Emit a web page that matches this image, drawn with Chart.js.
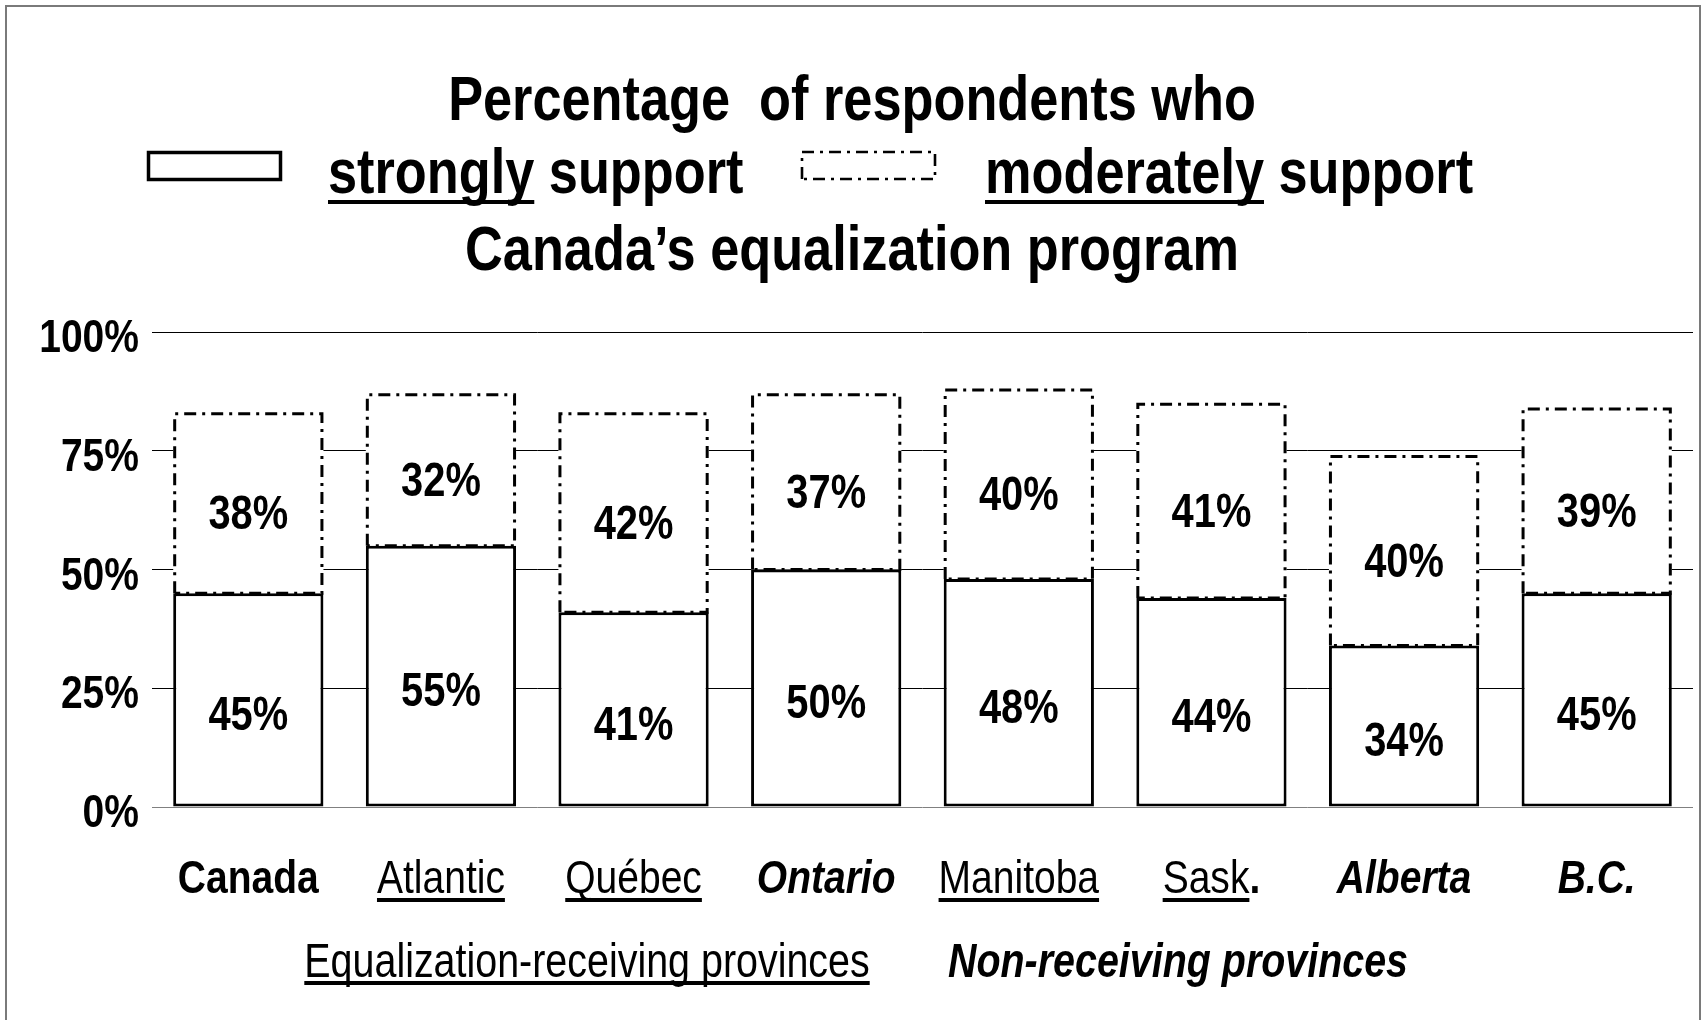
<!DOCTYPE html>
<html>
<head>
<meta charset="utf-8">
<title>Support for Canada’s equalization program</title>
<script src="https://cdn.jsdelivr.net/npm/chart.js@4.4.1/dist/chart.umd.min.js"></script>
<style>
  html, body { margin: 0; padding: 0; background: #ffffff; }
  #wrap { position: relative; width: 1707px; height: 1020px; }
  canvas { display: block; }
</style>
</head>
<body>
<div id="wrap"><canvas id="chart" width="1707" height="1020"></canvas></div>
<script>
// ---- data ----
const regions = ['Canada', 'Atlantic', 'Québec', 'Ontario', 'Manitoba', 'Sask.', 'Alberta', 'B.C.'];
const stronglySupport = [45, 55, 41, 50, 48, 44, 34, 45];
const moderatelySupport = [38, 32, 42, 37, 40, 41, 40, 39];
const yTickValues = [0, 25, 50, 75, 100];
const titleTop = 'Percentage  of respondents who';
const titleBottom = 'Canada’s equalization program';
const legendStrong = ['strongly', ' support'];
const legendModerate = ['moderately', ' support'];
const groupReceiving = 'Equalization-receiving provinces';
const groupNonReceiving = 'Non-receiving provinces';

// ---- text styling ----
// per-region label style: b = bold, i = italic, u = underline, dot = bold trailing period
const regionLabelStyle = [
  { b: true },
  { u: true },
  { u: true },
  { b: true, i: true },
  { u: true },
  { u: true, dot: true },
  { b: true, i: true },
  { b: true, i: true }
];

const FAMILY = '"Liberation Sans", Arial, Helvetica, sans-serif';
const SQUEEZE = 0.83;   // condensed lettering

function fontOf(size, bold, italic) {
  return (italic ? 'italic ' : '') + (bold ? 'bold ' : '') + size + 'px ' + FAMILY;
}

function runWidth(ctx, run) {
  ctx.font = run.font;
  return ctx.measureText(run.text).width * SQUEEZE;
}

// Draws a row of differently styled text pieces, optionally underlined.
function drawRuns(ctx, runs, x, baseline, align) {
  let total = 0;
  for (const r of runs) total += runWidth(ctx, r);
  let cx = align === 'center' ? x - total / 2 : align === 'right' ? x - total : x;
  for (const r of runs) {
    const w = runWidth(ctx, r);
    ctx.save();
    ctx.font = r.font;
    ctx.fillStyle = '#000';
    ctx.textAlign = 'left';
    ctx.textBaseline = 'alphabetic';
    ctx.translate(cx, baseline);
    ctx.scale(SQUEEZE, 1);
    ctx.fillText(r.text, 0, 0);
    ctx.restore();
    if (r.underline) {
      ctx.fillStyle = '#000';
      ctx.fillRect(cx, baseline + r.underline.offset, w, r.underline.thick);
    }
    cx += w;
  }
}

const DASH_DOT = [12, 6, 3, 6];

function dashDotRect(ctx, x0, y0, x1, y1, lw) {
  ctx.save();
  ctx.strokeStyle = '#000';
  ctx.lineWidth = lw;
  ctx.setLineDash(DASH_DOT);
  ctx.beginPath();
  ctx.moveTo(x0, y1);
  ctx.lineTo(x0, y0);
  ctx.lineTo(x1, y0);
  ctx.lineTo(x1, y1);
  ctx.lineTo(x0, y1);
  ctx.stroke();
  ctx.restore();
}

// Page frame
const framePlugin = {
  id: 'frame',
  beforeDraw(chart) {
    const ctx = chart.ctx;
    ctx.save();
    ctx.fillStyle = '#fff';
    ctx.fillRect(0, 0, chart.width, chart.height);
    ctx.strokeStyle = '#7a7a7a';
    ctx.lineWidth = 2;
    ctx.strokeRect(6, 6, 1694, 1100);
    ctx.restore();
  }
};

// Dash-dot outline for the "moderately support" segments
const dashDotBars = {
  id: 'dashDotBars',
  afterDatasetsDraw(chart) {
    const ctx = chart.ctx;
    const meta = chart.getDatasetMeta(1);
    meta.data.forEach(bar => {
      const p = bar.getProps(['x', 'y', 'base', 'width'], true);
      dashDotRect(ctx, p.x - p.width / 2 + 1.5, p.y + 1, p.x + p.width / 2 - 1.5, p.base, 3);
    });
  }
};

// Value labels inside each segment
const valueLabels = {
  id: 'valueLabels',
  afterDatasetsDraw(chart) {
    const ctx = chart.ctx;
    const size = 48;
    const cap = size * 0.716;
    chart.data.datasets.forEach((ds, di) => {
      const meta = chart.getDatasetMeta(di);
      const shift = di === 0 ? 13 : 9;
      meta.data.forEach((bar, i) => {
        const p = bar.getProps(['x', 'y', 'base'], true);
        const mid = (p.y + p.base) / 2 + shift;
        drawRuns(ctx, [{ text: ds.data[i] + '%', font: fontOf(size, true, false) }], p.x, mid + cap / 2, 'center');
      });
    });
  }
};

// Axis labels, title, legend and group captions
const textLayer = {
  id: 'textLayer',
  afterDraw(chart) {
    const ctx = chart.ctx;
    const ys = chart.scales.y;
    const xs = chart.scales.x;

    // y tick labels
    ys.ticks.forEach(t => {
      const py = ys.getPixelForValue(t.value);
      drawRuns(ctx, [{ text: t.value + '%', font: fontOf(47, true, false) }], 139, py + 20, 'right');
    });

    // category labels
    const ulX = { offset: 5, thick: 4 };
    regions.forEach((name, i) => {
      const st = regionLabelStyle[i];
      const px = xs.getPixelForTick(i);
      let runs;
      if (st.dot && name.endsWith('.')) {
        runs = [
          { text: name.slice(0, -1), font: fontOf(47, !!st.b, !!st.i), underline: st.u ? ulX : null },
          { text: '.', font: fontOf(47, true, false) }
        ];
      } else {
        runs = [{ text: name, font: fontOf(47, !!st.b, !!st.i), underline: st.u ? ulX : null }];
      }
      drawRuns(ctx, runs, px, 893, 'center');
    });

    // group captions
    drawRuns(ctx, [{ text: groupReceiving, font: fontOf(47.5, false, false), underline: { offset: 4, thick: 4 } }], 587, 977, 'center');
    drawRuns(ctx, [{ text: groupNonReceiving, font: fontOf(47.5, true, true) }], 1178, 977, 'center');

    // title
    const tf = fontOf(63, true, false);
    drawRuns(ctx, [{ text: titleTop, font: tf }], 852, 120, 'center');
    drawRuns(ctx, [{ text: titleBottom, font: tf }], 852, 270, 'center');

    // legend row
    const ulT = { offset: 7, thick: 4 };
    const dsS = chart.data.datasets[0];
    ctx.save();
    ctx.fillStyle = dsS.backgroundColor;
    ctx.fillRect(147, 151, 135, 30);
    ctx.strokeStyle = dsS.borderColor;
    ctx.lineWidth = 3.5;
    ctx.strokeRect(148.5, 152.5, 132, 27);
    ctx.restore();
    drawRuns(ctx, [
      { text: legendStrong[0], font: tf, underline: ulT },
      { text: legendStrong[1], font: tf }
    ], 328, 193, 'left');

    dashDotRect(ctx, 802, 152, 935, 179, 2.6);
    drawRuns(ctx, [
      { text: legendModerate[0], font: tf, underline: ulT },
      { text: legendModerate[1], font: tf }
    ], 985, 193, 'left');
  }
};

new Chart(document.getElementById('chart'), {
  type: 'bar',
  data: {
    labels: regions,
    datasets: [
      {
        label: 'strongly support',
        data: stronglySupport,
        backgroundColor: '#ffffff',
        borderColor: '#000000',
        borderWidth: 3,
        borderSkipped: false
      },
      {
        label: 'moderately support',
        data: moderatelySupport,
        backgroundColor: '#ffffff',
        borderColor: '#000000',
        borderWidth: 0,
        borderSkipped: false
      }
    ]
  },
  options: {
    responsive: false,
    animation: false,
    events: [],
    layout: { padding: { left: 152, right: 14, top: 332, bottom: 213 } },
    datasets: { bar: { barPercentage: 0.78, categoryPercentage: 1.0 } },
    plugins: {
      legend: { display: false },
      tooltip: { enabled: false },
      title: { display: false }
    },
    scales: {
      x: {
        stacked: true,
        grid: { display: false },
        border: { display: false },
        ticks: { display: false },
        afterFit(s) { s.height = 0; }
      },
      y: {
        stacked: true,
        min: yTickValues[0],
        max: yTickValues[yTickValues.length - 1],
        afterBuildTicks(s) { s.ticks = yTickValues.map(v => ({ value: v })); },
        grid: {
          drawTicks: false,
          lineWidth: 1,
          color: c => (c.tick && c.tick.value === 0 ? '#808080' : '#000000')
        },
        border: { display: false },
        ticks: { display: false },
        afterFit(s) { s.width = 0; }
      }
    }
  },
  plugins: [framePlugin, dashDotBars, valueLabels, textLayer]
});
</script>
</body>
</html>
